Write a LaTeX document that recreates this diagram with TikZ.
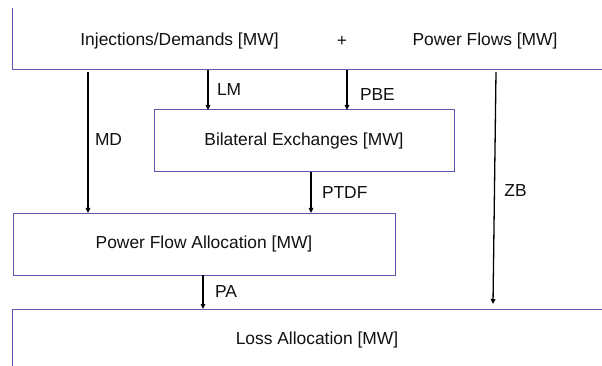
\documentclass[tikz,border=0pt]{standalone}
\usepackage{fontspec}
\setmainfont{Liberation Sans}
\usetikzlibrary{arrows.meta}
\definecolor{lossFrame}{HTML}{5A5AB4}
\definecolor{lossInk}{HTML}{111111}
\tikzset{
  loss diagram/.style={
    line width=1pt,
    >={Triangle[length=5pt,width=4.5pt]},
    every node/.style={font=\fontsize{17.4}{20}\selectfont,
      text=lossInk, inner sep=0pt, outer sep=0pt}
  },
  loss box/.style={draw=lossFrame, line width=1pt, rectangle},
  loss flow/.style={->, draw=black, line width=1.3pt},
  loss label/.style={anchor=west}
}
\begin{document}
\begin{tikzpicture}[loss diagram,x=1pt,y=-1pt]
    \useasboundingbox[fill=white] (0,0) rectangle (602,366);
    \clip (0,9) rectangle (602,366);
    % boxes
    \node[loss box,minimum width=628pt,minimum height=100pt] (inputs) at (326,20) {};
    \node[loss box,minimum width=300pt,minimum height=62pt] (bex) at (304,141)
      {Bilateral Exchanges [MW]};
    \node[loss box,minimum width=382pt,minimum height=62pt] (pfa) at (204,244)
      {Power Flow Allocation [MW]};
    \node[loss box,minimum width=628pt,minimum height=91pt] (loss) at (326,354.5) {};
    % texts
    \node (inj) at (179.5,41) {Injections/Demands [MW]};
    \node (plus) at (342,41) {+};
    \node (pf) at (485,41) {Power Flows [MW]};
    \node (losstext) at (317,340) {Loss Allocation [MW]};
    % flows
    \draw[loss flow] ([yshift=-2pt]inputs.south -| 88,0) -- (88,0 |- pfa.north)
      node[loss label,pos=0.48,xshift=7pt] (md) {MD};
    \draw[loss flow] (inputs.south -| 208,0) -- (208,0 |- bex.north)
      node[loss label,pos=0.5,xshift=9pt] (lm) {LM};
    \draw[loss flow] (inputs.south -| 347,0) -- (347,0 |- bex.north)
      node[loss label,pos=0.62,xshift=13pt] (pbe) {PBE};
    \draw[loss flow] (bex.south -| 311,0) -- (311,0 |- pfa.north)
      node[loss label,pos=0.5,xshift=11pt] (ptdf) {PTDF};
    \draw[loss flow] (pfa.south -| 203,0) -- (203,0 |- loss.north)
      node[loss label,pos=0.5,xshift=12pt] (pa) {PA};
    \draw[loss flow] ([yshift=-2pt]inputs.south -| 496,0) -- ([yshift=5pt]loss.north -| 493,0)
      node[loss label,pos=0.51,xshift=10pt] (zb) {ZB};
\end{tikzpicture}
\end{document}
